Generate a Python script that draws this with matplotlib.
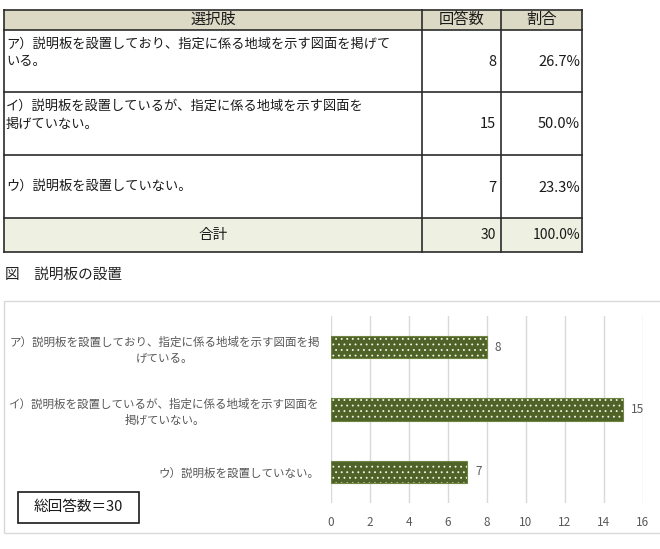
import matplotlib
matplotlib.use("Agg")
import matplotlib.pyplot as plt
from matplotlib.patches import Rectangle

plt.rcParams['font.family'] = ['Noto Sans CJK JP', 'DejaVu Sans']
plt.rcParams['hatch.linewidth'] = 0.6

# ---- data ----
header = ["選択肢", "回答数", "割合"]
choices = ["ア）説明板を設置しており、指定に係る地域を示す図面を掲げて\nいる。",
           "イ）説明板を設置しているが、指定に係る地域を示す図面を\n掲げていない。",
           "ウ）説明板を設置していない。"]
counts = [8, 15, 7]
percents = ["26.7%", "50.0%", "23.3%"]
total_label = "合計"
total_count = 30
total_percent = "100.0%"
caption = "図　説明板の設置"
chart_labels = ["ア）説明板を設置しており、指定に係る地域を示す図面を掲\nげている。",
                "イ）説明板を設置しているが、指定に係る地域を示す図面を\n掲げていない。",
                "ウ）説明板を設置していない。"]
xticks = [0, 2, 4, 6, 8, 10, 12, 14, 16]
note = "総回答数＝30"

W, H = 660, 549
fig = plt.figure(figsize=(W / 100, H / 100), dpi=100)

# overlay axes in pixel coordinates
ov = fig.add_axes([0, 0, 1, 1])
ov.set_xlim(0, W)
ov.set_ylim(H, 0)
ov.axis('off')

# ---- table ----
xl, xc1, xc2, xr = 4, 422, 501, 582
rows_y = [9.5, 29.5, 92, 155, 218, 252]
hdr_fill = "#DCD9C4"
tot_fill = "#EEF0E2"
ov.add_patch(Rectangle((xl, rows_y[0]), xr - xl, rows_y[1] - rows_y[0], facecolor=hdr_fill, edgecolor='none'))
ov.add_patch(Rectangle((xl, rows_y[4]), xr - xl, rows_y[5] - rows_y[4], facecolor=tot_fill, edgecolor='none'))
lc = "#2b2b2b"
for y in rows_y:
    ov.plot([xl, xr], [y, y], color=lc, lw=1.2)
for x in [xl, xc1, xc2, xr]:
    ov.plot([x, x], [rows_y[0], rows_y[5]], color=lc, lw=1.2)

tc = "#1a1a1a"
hy = (rows_y[0] + rows_y[1]) / 2
ov.text((xl + xc1) / 2, hy, header[0], ha='center', va='center', fontsize=11, color=tc)
ov.text((xc1 + xc2) / 2, hy, header[1], ha='center', va='center', fontsize=11, color=tc)
ov.text((xc2 + xr) / 2, hy, header[2], ha='center', va='center', fontsize=11, color=tc)

for i in range(3):
    y0, y1 = rows_y[i + 1], rows_y[i + 2]
    ym = (y0 + y1) / 2
    if "\n" in choices[i]:
        ov.text(xl + 2, y0 + 8, choices[i], ha='left', va='top', fontsize=9.5, color=tc, linespacing=1.45)
    else:
        ov.text(xl + 2, ym, choices[i], ha='left', va='center', fontsize=9.5, color=tc)
    ov.text(xc2 - 5, ym + 1, str(counts[i]), ha='right', va='center', fontsize=10.5, color=tc)
    ov.text(xr - 2, ym + 1, percents[i], ha='right', va='center', fontsize=10.5, color=tc)

ty = (rows_y[4] + rows_y[5]) / 2
ov.text((xl + xc1) / 2, ty, total_label, ha='center', va='center', fontsize=10.5, color=tc)
ov.text(xc2 - 5, ty, str(total_count), ha='right', va='center', fontsize=10, color=tc)
ov.text(xr - 2, ty, total_percent, ha='right', va='center', fontsize=10, color=tc)

# caption
ov.text(5, 275, caption, ha='left', va='center', fontsize=10.5, color="#222222")

# chart frame
ov.add_patch(Rectangle((4, 301), W - 4 + 2, 533 - 301, facecolor='none', edgecolor="#D9D9D9", lw=1))

# note box
ov.add_patch(Rectangle((18, 492), 121, 31, facecolor='white', edgecolor="#1a1a1a", lw=1.2))
ov.text(78.5, 507.5, note, ha='center', va='center', fontsize=10.5, color="#1a1a1a")

# ---- bar chart ----
ax = fig.add_axes([331 / W, 1 - 503 / H, (643 - 331) / W, (503 - 316) / H])
ax.set_zorder(2)
ax.patch.set_alpha(0)
pos = [2, 1, 0]
olive = "#4F6228"
ax.barh(pos, counts, height=0.36, color=olive, edgecolor='#F2F5E6', hatch='...', linewidth=0, zorder=3)
ax.barh(pos, counts, height=0.36, fill=False, edgecolor="#6E8540", linewidth=0.8, zorder=4)
for p, v in zip(pos, counts):
    ax.text(v + 0.4, p, str(v), ha='left', va='center', fontsize=8.5, color="#595959")
ax.set_xlim(0, 16)
ax.set_ylim(-0.5, 2.5)
ax.set_xticks(xticks)
ax.set_xticklabels([str(t) for t in xticks], fontsize=8.5, color="#595959")
ax.set_yticks(pos)
ax.set_yticklabels(chart_labels, fontsize=8.3, color="#595959", linespacing=1.3)
ax.tick_params(axis='both', length=0)
ax.tick_params(axis='x', pad=9)
ax.tick_params(axis='y', pad=8)
for lab in ax.get_yticklabels():
    lab.set_ha('right')
    lab.set_multialignment('center')
ax.grid(axis='x', color="#D9D9D9", lw=1, zorder=0)
for s in ax.spines.values():
    s.set_visible(False)

fig.savefig("out.png", dpi=100)
